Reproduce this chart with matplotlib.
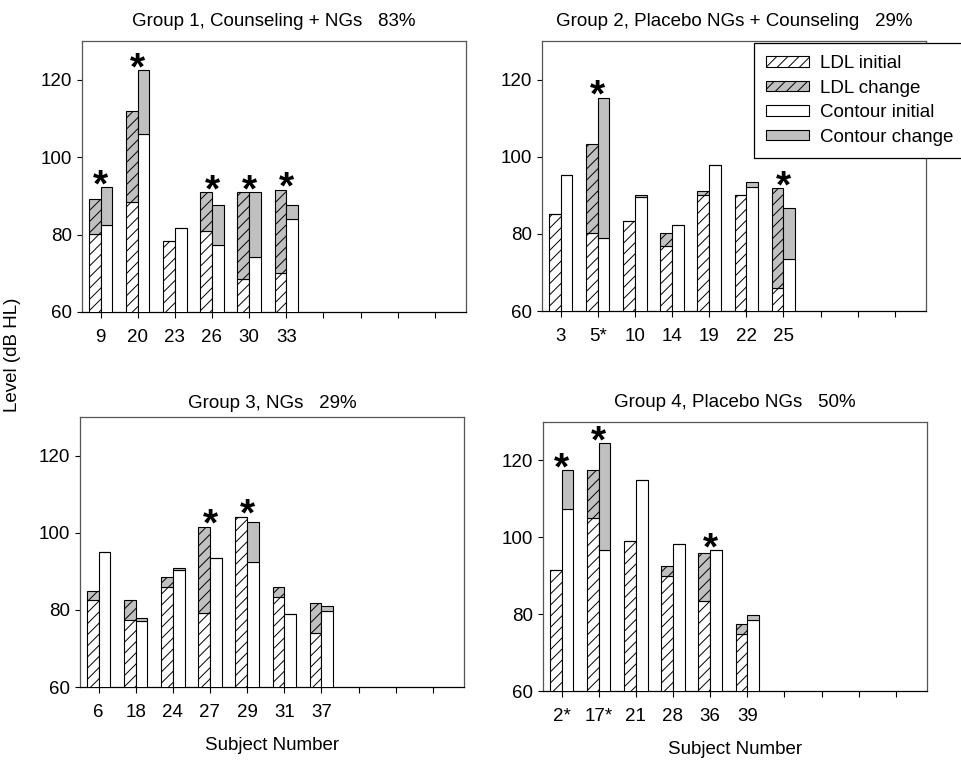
import numpy as np
import matplotlib
matplotlib.use("Agg")
import matplotlib.pyplot as plt
from matplotlib.patches import Patch

plt.rcParams['font.family'] = ['Liberation Sans', 'DejaVu Sans']
plt.rcParams['font.size'] = 13.5
plt.rcParams['hatch.linewidth'] = 0.7

# data (dB HL); "final" = initial + change
titles = ["Group 1, Counseling + NGs   83%",
          "Group 2, Placebo NGs + Counseling   29%",
          "Group 3, NGs   29%",
          "Group 4, Placebo NGs   50%"]

g1_subj = ["9", "20", "23", "26", "30", "33"]
g1_ldl_init = [80.1, 88.4, 78.4, 81.0, 68.4, 70.2]
g1_ldl_final = [89.2, 111.8, 78.4, 90.9, 90.9, 91.6]
g1_con_init = [82.6, 105.9, 81.8, 77.2, 74.2, 83.9]
g1_con_final = [92.2, 122.5, 81.8, 87.6, 90.9, 87.6]
g1_star = [1, 1, 0, 1, 1, 1]

g2_subj = ["3", "5*", "10", "14", "19", "22", "25"]
g2_ldl_init = [85.1, 80.1, 83.4, 76.8, 90.1, 90.1, 65.9]
g2_ldl_final = [85.1, 103.3, 83.4, 80.1, 91.0, 90.1, 91.8]
g2_con_init = [95.2, 78.8, 89.6, 82.2, 97.9, 92.2, 73.4]
g2_con_final = [95.2, 115.3, 90.0, 82.2, 97.9, 93.4, 86.7]
g2_star = [0, 1, 0, 0, 0, 0, 1]

g3_subj = ["6", "18", "24", "27", "29", "31", "37"]
g3_ldl_init = [82.5, 77.5, 85.9, 79.1, 104.1, 83.3, 74.1]
g3_ldl_final = [85.0, 82.5, 88.4, 101.6, 104.1, 85.9, 81.7]
g3_con_init = [95.0, 77.1, 90.3, 93.4, 92.5, 78.8, 79.6]
g3_con_final = [95.0, 77.9, 90.9, 93.4, 102.8, 78.8, 80.9]
g3_star = [0, 0, 0, 1, 1, 0, 0]

g4_subj = ["2*", "17*", "21", "28", "36", "39"]
g4_ldl_init = [91.6, 105.0, 99.1, 90.0, 83.3, 74.9]
g4_ldl_final = [91.6, 117.4, 99.1, 92.5, 95.8, 77.5]
g4_con_init = [107.4, 96.6, 114.8, 98.3, 96.6, 78.4]
g4_con_final = [117.4, 124.5, 114.8, 98.3, 96.6, 79.9]
g4_star = [1, 1, 0, 0, 1, 0]

groups = [
    (g1_subj, g1_ldl_init, g1_ldl_final, g1_con_init, g1_con_final, g1_star),
    (g2_subj, g2_ldl_init, g2_ldl_final, g2_con_init, g2_con_final, g2_star),
    (g3_subj, g3_ldl_init, g3_ldl_final, g3_con_init, g3_con_final, g3_star),
    (g4_subj, g4_ldl_init, g4_ldl_final, g4_con_init, g4_con_final, g4_star),
]

W, H = 962, 760
fig = plt.figure(figsize=(W / 100, H / 100), dpi=100)

# axes boxes in pixels: left, bottom(from top), width, height
boxes = [(82, 312, 384, 271), (542, 311, 384, 270),
         (80, 687, 384, 270), (543, 691, 384, 269)]
title_pads = [10.5, 10.5, 6.5, 10.5]

gray = "#c0c0c0"
bw = 0.315
n_slots = 10
hatch = '///'

axes = []
for i, (subj, li, lf, ci, cf, st) in enumerate(groups):
    l, b, w, h = boxes[i]
    ax = fig.add_axes([l / W, 1 - b / H, w / W, h / H])
    axes.append(ax)
    x = np.arange(len(subj))
    li = np.array(li); lf = np.array(lf)
    ci = np.array(ci); cf = np.array(cf)

    ax.bar(x, li, width=-bw, align='edge', color='white', edgecolor='black',
           hatch=hatch, linewidth=0.8, zorder=3)
    ax.bar(x, lf - li, bottom=li, width=-bw, align='edge', color=gray,
           edgecolor='black', hatch=hatch, linewidth=0.8, zorder=3)
    ax.bar(x, ci, width=bw, align='edge', color='white', edgecolor='black',
           linewidth=0.8, zorder=3)
    ax.bar(x, cf - ci, bottom=ci, width=bw, align='edge', color=gray,
           edgecolor='black', linewidth=0.8, zorder=3)

    for xi, s, top in zip(x, st, np.maximum(lf, cf)):
        if s:
            ax.text(xi, top - 4.4, "*", ha='center', va='bottom',
                    fontsize=28, fontweight='bold', zorder=4)

    ax.set_xlim(-0.5, 9.84)
    ax.set_ylim(60, 130)
    ax.set_yticks([60, 80, 100, 120])
    ax.set_xticks(np.arange(n_slots))
    ax.set_xticklabels(list(subj) + [""] * (n_slots - len(subj)))
    ax.tick_params(axis='x', length=4, width=0.8, pad=8)
    ax.tick_params(axis='y', length=3.6, width=0.8, pad=3.6)
    for sp in ['left', 'top', 'right']:
        ax.spines[sp].set_color('#555555')
        ax.spines[sp].set_linewidth(0.9)
    ax.spines['bottom'].set_linewidth(0.9)
    ax.set_title(titles[i], fontsize=13.5, pad=title_pads[i])

handles = [Patch(facecolor='white', edgecolor='black', hatch=hatch, linewidth=0.8),
           Patch(facecolor=gray, edgecolor='black', hatch=hatch, linewidth=0.8),
           Patch(facecolor='white', edgecolor='black', linewidth=0.8),
           Patch(facecolor=gray, edgecolor='black', linewidth=0.8)]
labels = ["LDL initial", "LDL change", "Contour initial", "Contour change"]
leg = axes[1].legend(handles, labels, loc='upper left',
                     bbox_to_anchor=(754 / W, 1 - 43 / H),
                     bbox_transform=fig.transFigure, borderaxespad=0,
                     fancybox=False, framealpha=1, edgecolor='black',
                     handlelength=2.3, handleheight=0.45, labelspacing=0.4,
                     borderpad=0.65, handletextpad=0.55)
leg.get_frame().set_linewidth(0.9)
leg.set_zorder(10)

fig.text(13 / W, 1 - 355 / H, "Level (dB HL)", rotation=90,
         ha='center', va='center', fontsize=13.5)
fig.text(272 / W, 1 - 745 / H, "Subject Number", ha='center', va='center',
         fontsize=13.5)
fig.text(735 / W, 1 - 750 / H, "Subject Number", ha='center', va='center',
         fontsize=13.5)

fig.savefig("out.png", dpi=100)
